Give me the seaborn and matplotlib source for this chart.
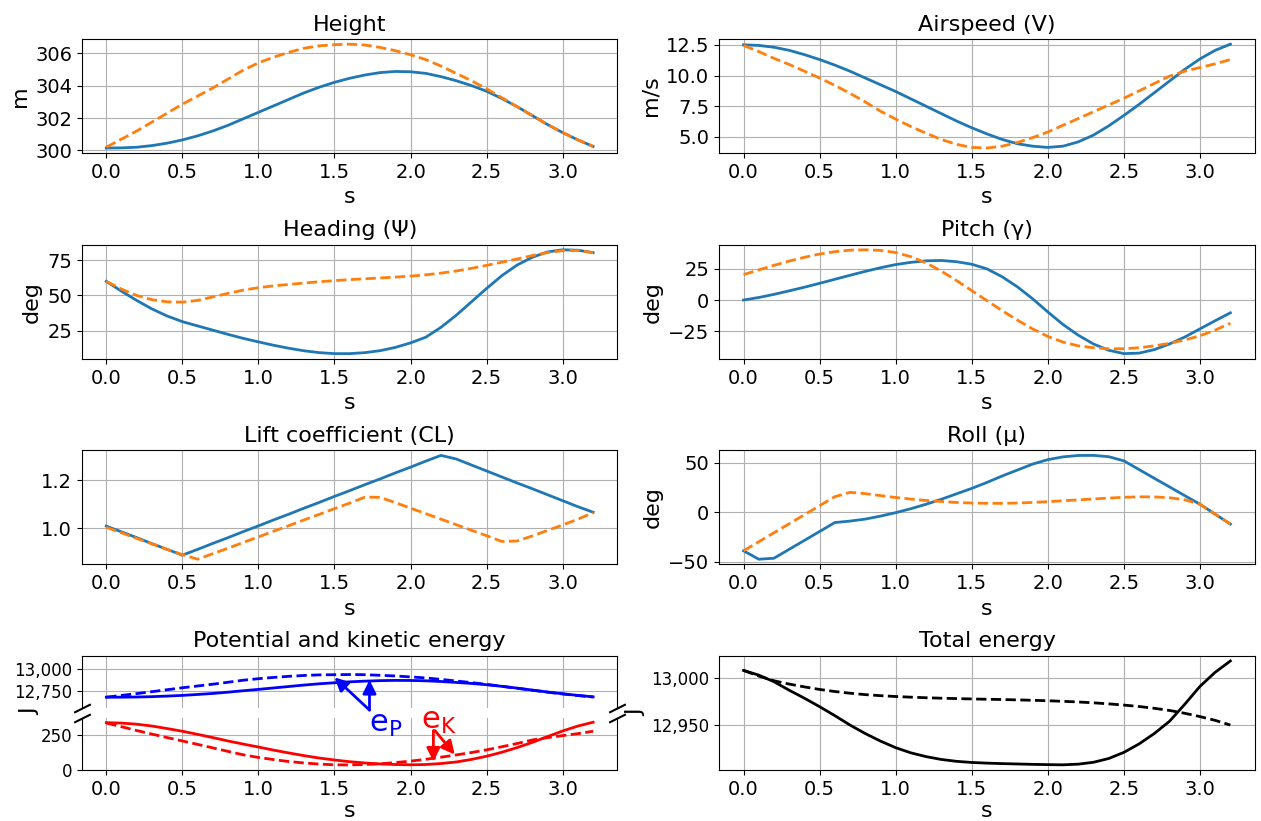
import matplotlib
matplotlib.use("Agg")
import numpy as np
import pandas as pd
import matplotlib.pyplot as plt
import seaborn as sns
from matplotlib.ticker import MultipleLocator, FixedLocator, StrMethodFormatter

# ---------------- data ----------------
time_s = [0.0, 0.1, 0.2, 0.3, 0.4, 0.5, 0.6, 0.7, 0.8, 0.9, 1.0, 1.1, 1.2, 1.3, 1.4, 1.5,
          1.6, 1.7, 1.8, 1.9, 2.0, 2.1, 2.2, 2.3, 2.4, 2.5, 2.6, 2.7, 2.8, 2.9, 3.0, 3.1, 3.2]

height_sol = [300.15, 300.16, 300.2, 300.3, 300.45, 300.65, 300.9, 301.2, 301.55, 301.95, 302.35,
              302.75, 303.15, 303.55, 303.9, 304.2, 304.45, 304.65, 304.8, 304.87, 304.85, 304.75,
              304.55, 304.3, 304.0, 303.65, 303.2, 302.7, 302.15, 301.6, 301.1, 300.65, 300.25]
height_ref = [300.2, 300.7, 301.2, 301.75, 302.3, 302.85, 303.35, 303.85, 304.4, 304.95, 305.4,
              305.75, 306.05, 306.3, 306.45, 306.52, 306.55, 306.5, 306.35, 306.15, 305.9, 305.6,
              305.2, 304.75, 304.3, 303.8, 303.25, 302.7, 302.15, 301.6, 301.1, 300.65, 300.25]

speed_sol = [12.5, 12.45, 12.3, 12.05, 11.7, 11.3, 10.85, 10.35, 9.8, 9.25, 8.7, 8.1, 7.5, 6.9,
             6.3, 5.75, 5.25, 4.8, 4.45, 4.25, 4.15, 4.25, 4.6, 5.15, 5.9, 6.75, 7.65, 8.6, 9.55,
             10.5, 11.35, 12.05, 12.55]
speed_ref = [12.45, 11.95, 11.4, 10.9, 10.35, 9.8, 9.2, 8.55, 7.85, 7.1, 6.45, 5.85, 5.3, 4.8,
             4.4, 4.15, 4.1, 4.25, 4.55, 4.95, 5.4, 5.95, 6.5, 7.05, 7.6, 8.15, 8.75, 9.35, 9.95,
             10.35, 10.65, 10.95, 11.3]

heading_sol = [60, 53, 46.5, 40.5, 35.5, 31.5, 28.5, 25.5, 22.5, 19.7, 17.2, 14.8, 12.7, 10.9,
               9.6, 8.9, 8.9, 9.6, 11.0, 13.3, 16.5, 20.5, 27.5, 36, 45.5, 55, 64, 71.5, 77,
               80.8, 82.3, 82.0, 80.3]
heading_ref = [60, 54.5, 50, 47, 45.5, 45.3, 46.5, 49, 51.5, 53.8, 55.5, 56.8, 57.8, 58.8, 59.7,
               60.5, 61.2, 61.8, 62.4, 63.0, 63.7, 64.6, 65.8, 67.3, 69.2, 71.3, 73.5, 75.8,
               78.2, 80.3, 81.7, 81.8, 80.3]

pitch_sol = [0, 2, 4.5, 7.3, 10.2, 13.3, 16.5, 19.7, 22.8, 25.7, 28.2, 30.0, 31.2, 31.5, 30.5,
             28.5, 24.8, 18.5, 10.5, 1.0, -9.5, -19.5, -28.0, -35, -40, -42.7, -42.3, -39.5,
             -35.0, -29.5, -23.0, -16.5, -10.2]
pitch_ref = [20.2, 24, 27.6, 31, 34, 36.6, 38.5, 39.7, 40.0, 39.5, 37.8, 34.5, 29.5, 23.0, 15.5,
             7.5, -0.5, -8.5, -16.0, -23.0, -29.0, -33.5, -36.5, -38.0, -38.8, -38.8, -38.0,
             -36.5, -34.5, -31.8, -28.5, -24.0, -18.5]

cl_sol = [1.008, 0.984, 0.960, 0.935, 0.911, 0.887, 0.911, 0.936, 0.960, 0.985, 1.009, 1.034,
          1.058, 1.083, 1.107, 1.132, 1.156, 1.181, 1.205, 1.230, 1.254, 1.279, 1.303, 1.288,
          1.263, 1.238, 1.213, 1.188, 1.164, 1.139, 1.114, 1.089, 1.066]
cl_ref = [1.003, 0.980, 0.957, 0.934, 0.911, 0.889, 0.870, 0.893, 0.916, 0.940, 0.963, 0.987,
          1.010, 1.034, 1.057, 1.081, 1.104, 1.129, 1.128, 1.106, 1.083, 1.060, 1.037, 1.014,
          0.991, 0.968, 0.944, 0.946, 0.967, 0.990, 1.013, 1.037, 1.064]

roll_sol = [-39, -47.5, -46.5, -37.5, -28.5, -19.5, -10.5, -9.0, -7.0, -4.0, -0.5, 3.5, 8.0, 13.0,
            18.5, 24.0, 30.0, 36.5, 42.5, 48.5, 53.0, 55.8, 57.2, 57.3, 56.0, 51.8, 43.0, 34.2,
            25.5, 16.7, 8.0, -2.0, -12.0]
roll_ref = [-39, -29.9, -20.8, -11.7, -2.6, 6.5, 15.6, 20.0, 18.7, 16.7, 14.8, 13.2, 11.8, 10.8,
            9.8, 9.2, 8.9, 8.9, 9.2, 9.8, 10.6, 11.5, 12.4, 13.3, 14.2, 15.0, 15.5, 15.4, 14.6,
            12.5, 8.0, -2.0, -12.0]

epot_sol = [12672, 12672, 12674, 12678, 12685, 12693, 12704, 12716, 12731, 12748, 12764, 12781,
            12798, 12815, 12830, 12842, 12853, 12861, 12867, 12870, 12869, 12865, 12857, 12846,
            12834, 12819, 12800, 12779, 12756, 12733, 12712, 12693, 12676]
epot_ref = [12672, 12693, 12714, 12737, 12760, 12783, 12804, 12825, 12848, 12872, 12890, 12905,
            12918, 12928, 12935, 12937, 12939, 12937, 12930, 12922, 12911, 12899, 12882, 12863,
            12844, 12823, 12800, 12777, 12754, 12731, 12710, 12691, 12674]
ekin_sol = [336, 333, 325, 312, 294, 275, 253, 230, 206, 184, 163, 141, 121, 102, 85, 71, 59, 50,
            43, 39, 37, 39, 46, 57, 75, 98, 126, 159, 196, 237, 277, 312, 339]
ekin_ref = [333, 307, 280, 255, 230, 206, 182, 157, 132, 108, 89, 74, 60, 50, 42, 37, 36, 39, 44,
            53, 63, 76, 91, 107, 124, 143, 165, 188, 213, 230, 244, 258, 275]

etot_sol = [13008, 13003, 12996, 12987, 12978.5, 12969.5, 12960, 12950, 12941, 12933, 12926,
            12920.5, 12916.5, 12913.5, 12911.5, 12910.3, 12909.6, 12909.1, 12908.7, 12908.3,
            12908, 12907.8, 12908.5, 12910.5, 12914.5, 12921, 12930, 12941, 12954, 12972,
            12991, 13006, 13018]
etot_ref = [13008, 13002, 12997, 12993.5, 12990.5, 12987.8, 12985.6, 12983.8, 12982.3, 12981.2,
            12980.3, 12979.6, 12979, 12978.5, 12978.1, 12977.7, 12977.4, 12977.1, 12976.7,
            12976.3, 12975.8, 12975.2, 12974.5, 12973.6, 12972.5, 12971.2, 12969.7, 12967.8,
            12965.5, 12962.5, 12959, 12955, 12950]

# ---------------- figure ----------------
plt.rcParams["font.family"] = ["DejaVu Sans"]
C0, C1 = "#1f77b4", "#ff7f0e"
LW = 2.0
TICK_FS, LABEL_FS, TITLE_FS = 14, 16, 16

fig = plt.figure(figsize=(12.61, 8.21), dpi=100)
gs = fig.add_gridspec(4, 2, left=0.065, right=0.995, top=0.9525, bottom=0.0621,
                      hspace=0.80, wspace=0.19)


def style_axis(ax, xlabel=True, pad=4.0):
    ax.grid(True, color="#b0b0b0", linewidth=0.8)
    ax.set_axisbelow(True)
    ax.xaxis.set_major_locator(MultipleLocator(0.5))
    ax.xaxis.set_major_formatter(StrMethodFormatter("{x:.1f}"))
    ax.tick_params(labelsize=TICK_FS)
    if xlabel:
        ax.set_xlabel("s", fontsize=LABEL_FS, labelpad=pad)


panels = [
    (0, 0, "Height", "m", height_sol, height_ref, 2),
    (0, 1, "Airspeed (V)", "m/s", speed_sol, speed_ref, 2.5),
    (1, 0, "Heading (Ψ)", "deg", heading_sol, heading_ref, 25),
    (1, 1, "Pitch (γ)", "deg", pitch_sol, pitch_ref, 25),
    (2, 0, "Lift coefficient (CL)", None, cl_sol, cl_ref, 0.2),
    (2, 1, "Roll (μ)", "deg", roll_sol, roll_ref, 50),
]

for r, c, title, ylab, sol, ref, step in panels:
    ax = fig.add_subplot(gs[r, c])
    sns.lineplot(x=time_s, y=sol, ax=ax, color=C0, linewidth=LW)
    sns.lineplot(x=time_s, y=ref, ax=ax, color=C1, linewidth=LW, linestyle="--")
    style_axis(ax)
    ax.yaxis.set_major_locator(MultipleLocator(step))
    ax.set_title(title, fontsize=TITLE_FS)
    ax.set_ylabel(ylab if ylab else "", fontsize=LABEL_FS)

# ---------- broken axis: potential & kinetic energy ----------
sub = gs[3, 0].subgridspec(2, 1, hspace=0.19)
ax_top = fig.add_subplot(sub[0])
ax_bot = fig.add_subplot(sub[1], sharex=ax_top)

for ax in (ax_top, ax_bot):
    sns.lineplot(x=time_s, y=epot_sol, ax=ax, color="b", linewidth=LW)
    sns.lineplot(x=time_s, y=epot_ref, ax=ax, color="b", linewidth=LW, linestyle="--")
    sns.lineplot(x=time_s, y=ekin_sol, ax=ax, color="r", linewidth=LW)
    sns.lineplot(x=time_s, y=ekin_ref, ax=ax, color="r", linewidth=LW, linestyle="--")
    style_axis(ax, xlabel=False)
    ax.set_ylabel("")
    ax.tick_params(axis="y", labelsize=12)
    ax.yaxis.set_major_formatter(StrMethodFormatter("{x:,.0f}"))
    ax.patch.set_visible(False)

ax_top.set_ylim(12545, 13160)
ax_bot.set_ylim(0, 370)
ax_top.yaxis.set_major_locator(FixedLocator([12750, 13000]))
ax_bot.yaxis.set_major_locator(FixedLocator([0, 250]))
ax_top.spines["bottom"].set_visible(False)
ax_bot.spines["top"].set_visible(False)
ax_top.tick_params(axis="x", bottom=False, labelbottom=False)
ax_bot.set_xlabel("s", fontsize=LABEL_FS, labelpad=1.5)
ax_top.set_title("Potential and kinetic energy", fontsize=TITLE_FS)
ax_top.set_zorder(3)

d = 0.5
kw = dict(marker=[(-1, -d), (1, d)], markersize=12, linestyle="none", color="k",
          mec="k", mew=1.5, clip_on=False)
ax_top.plot([0, 1], [0, 0], transform=ax_top.transAxes, **kw)
ax_bot.plot([0, 1], [1, 1], transform=ax_bot.transAxes, **kw)

fig.text(30 / 1261, 1 - 712 / 821, "J", rotation=90, ha="center", va="center",
         fontsize=LABEL_FS)

# annotations
arrow_b = dict(arrowstyle="-|>", color="b", lw=2, mutation_scale=20, shrinkA=0, shrinkB=0)
arrow_r = dict(arrowstyle="-|>", color="r", lw=2, mutation_scale=20, shrinkA=0, shrinkB=0)
ax_top.annotate("", xy=(1.5, 12905), xytext=(1.73, 12520), arrowprops=arrow_b,
                annotation_clip=False)
ax_top.annotate("", xy=(1.73, 12875), xytext=(1.73, 12520), arrowprops=arrow_b,
                annotation_clip=False)
ax_top.text(1.73, 12525, r"e$_\mathrm{P}$", color="b", fontsize=22, ha="left", va="top",
            clip_on=False)
ax_bot.text(2.07, 445, r"e$_\mathrm{K}$", color="r", fontsize=22, ha="left", va="top",
            clip_on=False)
ax_bot.annotate("", xy=(2.15, 60), xytext=(2.15, 280), arrowprops=arrow_r,
                annotation_clip=False)
ax_bot.annotate("", xy=(2.29, 110), xytext=(2.16, 280), arrowprops=arrow_r,
                annotation_clip=False)

# ---------- total energy ----------
ax = fig.add_subplot(gs[3, 1])
sns.lineplot(x=time_s, y=etot_sol, ax=ax, color="k", linewidth=LW)
sns.lineplot(x=time_s, y=etot_ref, ax=ax, color="k", linewidth=LW, linestyle="--")
style_axis(ax, pad=1.5)
ax.tick_params(axis="y", labelsize=12)
ax.yaxis.set_major_locator(MultipleLocator(50))
ax.yaxis.set_major_formatter(StrMethodFormatter("{x:,.0f}"))
ax.set_title("Total energy", fontsize=TITLE_FS)
ax.set_ylabel("J", fontsize=LABEL_FS)

fig.savefig("out.png", dpi=100)
